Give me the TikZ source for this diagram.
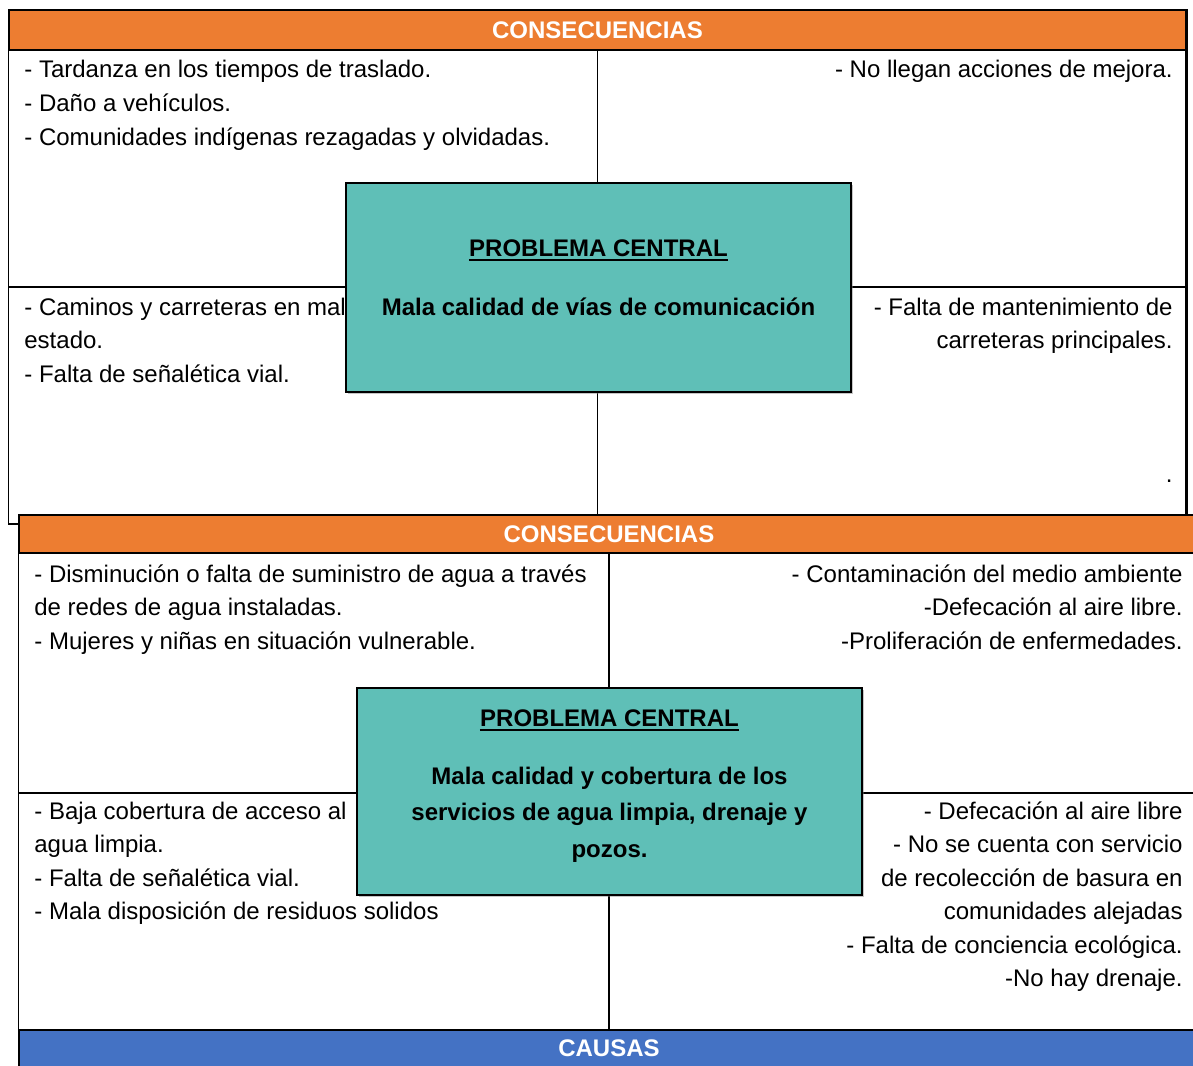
\documentclass[tikz,border=0pt]{standalone}
\usepackage{fontspec}
\setmainfont{Liberation Sans}
\usetikzlibrary{positioning,shadows}
\definecolor{naranja}{RGB}{237,125,49}
\definecolor{turquesa}{RGB}{95,191,183}
\definecolor{azul}{RGB}{68,114,196}
\begin{document}
\begin{tikzpicture}[x=0.5pt, y=-0.5pt,
band/.style={rectangle, draw=black, line width=0.75pt, fill=#1, inner sep=0pt, text=white, font=\fontsize{12}{14}\selectfont\bfseries},
item/.style={inner sep=0pt, anchor=base west, align=left, font=\fontsize{12}{16.75}\selectfont},
itemr/.style={item, anchor=base east, align=right},
prob/.style={rectangle, draw=black, line width=1pt, fill=turquesa, minimum width=252.5pt, drop shadow={shadow xshift=0.8pt, shadow yshift=-0.8pt, opacity=0.45}},
probtxt/.style={inner sep=0pt, anchor=base, align=center, font=\fontsize{12}{18.25}\selectfont\bfseries},
line/.style={draw=black, line width=0.75pt}
]
\useasboundingbox (0,0) rectangle (1193,1065);

%Nodes (base = last line of each list)
\node[band=naranja, minimum width=588.5pt, minimum height=20pt] (cab1) at (597.5,30)   {CONSECUENCIAS};
\node[band=naranja, minimum width=590pt, minimum height=19pt]   (cab2) at (609,534)    {CONSECUENCIAS};
\node[band=azul, minimum width=590pt, minimum height=18.5pt]    (causas) at (609,1048.5) {CAUSAS};

\node[item]  (c1a) at (24,145)     {- Tardanza en los tiempos de traslado.\\- Daño a vehículos.\\- Comunidades indígenas rezagadas y olvidadas.};
\node[itemr] (c1b) at (1173,78)    {- No llegan acciones de mejora.};
\node[item]  (c1c) at (24,382)     {- Caminos y carreteras en mal\\estado.\\- Falta de señalética vial.};
\node[itemr] (c1d) at (1173,348.5) {- Falta de mantenimiento de\\carreteras principales.};
\node[itemr] (c1e) at (1173,482)   {.};

\node[item]  (c2a) at (34,649)     {- Disminución o falta de suministro de agua a través\\de redes de agua instaladas.\\- Mujeres y niñas en situación vulnerable.};
\node[itemr] (c2b) at (1183,649)   {- Contaminación del medio ambiente\\-Defecación al aire libre.\\-Proliferación de enfermedades.};
\node[item]  (c2c) at (34,919.5)   {- Baja cobertura de acceso al\\agua limpia.\\- Falta de señalética vial.\\- Mala disposición de residuos solidos};
\node[itemr] (c2d) at (1183,986.5) {- Defecación al aire libre\\- No se cuenta con servicio\\de recolección de basura en\\comunidades alejadas\\- Falta de conciencia ecológica.\\-No hay drenaje.};

%Lines
\draw[line] (cab1.north west) -- (cab1.west |- 0,524) -- (19,524);
\draw[line, line width=1.5pt] (cab1.north east) -- (cab1.east |- cab2.north);
\draw[line] (cab1.south) -- (cab1.south |- cab2.north);
\draw[line] (cab1.west |- 0,287) -- (cab1.east |- 0,287);
\draw[line] (cab2.north west) -- (cab2.west |- 0,1065);
\draw[line] (cab2.south) -- (causas.north);
\draw[line] (cab2.west |- 0,793) -- (cab2.east |- 0,793);

%Central problem
\node[prob, minimum height=104.5pt] (prob1) at (598.5,287.5) {};
\node[probtxt] (tit1) at (598.5,256) {PROBLEMA CENTRAL};
\node[probtxt] (txt1) at (598.5,315) {Mala calidad de vías de comunicación};
\draw[line width=1pt] ([yshift=-1.8pt]tit1.base west) -- ([yshift=-1.8pt]tit1.base east);

\node[prob, minimum height=103.5pt] (prob2) at (609.5,791.5) {};
\node[probtxt] (tit2) at (609.5,726.5) {PROBLEMA CENTRAL};
\node[probtxt] (txt2) at (609.5,857) {Mala calidad y cobertura de los\\servicios de agua limpia, drenaje y\\pozos.};
\draw[line width=1pt] ([yshift=-1.8pt]tit2.base west) -- ([yshift=-1.8pt]tit2.base east);
\end{tikzpicture}
\end{document}
